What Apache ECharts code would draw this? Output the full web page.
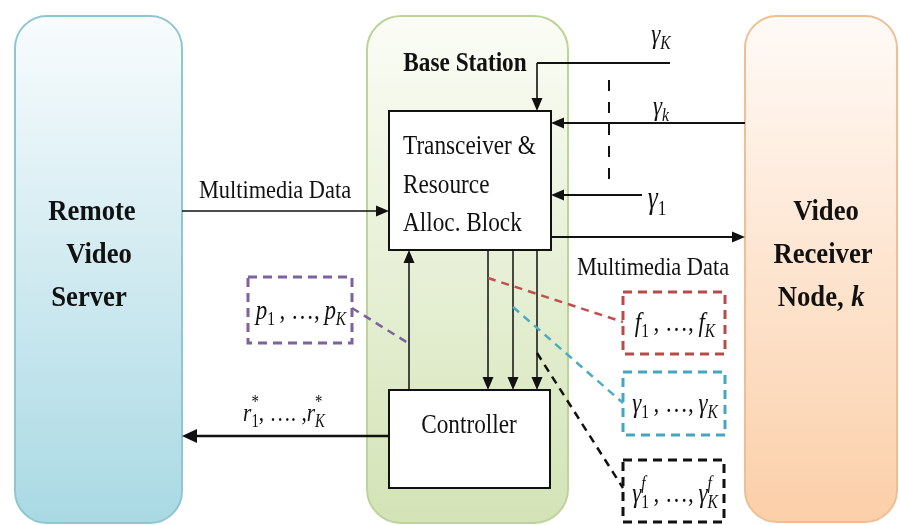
<!DOCTYPE html>
<html><head><meta charset="utf-8">
<script src="https://cdn.jsdelivr.net/npm/echarts@6/dist/echarts.min.js"></script>
<style>html,body{margin:0;padding:0;background:#fff}#c{width:900px;height:525px}</style>
</head><body><div id="c"></div>
<script>
// ---- content (labels) ----
const entityNames = [['Remote','Video','Server'], ['Base Station'], ['Video','Receiver','Node, ']];
const entityItalicTail = 'k';
const blockNames = [['Transceiver &','Resource','Alloc. Block'], ['Controller']];
const flowLabels = ['Multimedia Data', 'Multimedia Data'];
// math labels: [text, kind]  kind: i=italic, r=roman, s=sub roman, si=sub italic, pi=sup italic (stacked), p=sup roman (stacked)
const powerLabel   = [['p','i'],['1','s'],['\u2009, …,\u2009','r'],['p','i'],['K','si']];
const freqLabel    = [['f','i'],['1','s'],['\u2009, …,\u2009','r'],['f','i'],['K','si']];
const snrLabel     = [['γ','i'],['1','s'],['\u2009, …,\u2009','r'],['γ','i'],['K','si']];
const snrFLabel    = [['γ','i'],['f','pi'],['1','s'],['\u2009, …,\u2009','r'],['γ','i'],['f','pi'],['K','si']];
const rateLabel    = [['r','i'],['*','p'],['1','s'],[', …. ,','r'],['r','i'],['*','p'],['K','si']];
const feedbackK    = [['γ','i'],['K','si']];
const feedbackk    = [['γ','i'],['k','si']];
const feedback1    = [['γ','i'],['1','s']];

// ---- drawing helpers ----
const SERIF = '"Liberation Serif","Times New Roman",serif';
const els = [];
function rect(x,y,w,h,style,r,z){ els.push({type:'rect',z:z||1,shape:{x,y,width:w,height:h,r:r||0},style}); }
function line(x1,y1,x2,y2,o){ o=o||{}; els.push({type:'line',z:o.z||5,shape:{x1,y1,x2,y2},style:{stroke:o.color||'#111',lineWidth:o.w||1.6,lineDash:o.dash||null,lineCap:'butt'}}); }
function arrow(x1,y1,x2,y2,o){
  o=o||{}; const L=o.len||13, HW=o.hw||5.5;
  const dx=x2-x1, dy=y2-y1, d=Math.hypot(dx,dy), ux=dx/d, uy=dy/d;
  const bx=x2-ux*L, by=y2-uy*L;
  line(x1,y1,bx+ux*2,by+uy*2,o);
  els.push({type:'polygon',z:6,shape:{points:[[x2,y2],[bx-uy*HW,by+ux*HW],[bx+uy*HW,by-ux*HW]]},style:{fill:o.color||'#111'}});
}
function text(str,x,y,o){
  o=o||{};
  els.push({type:'text',z:10,x,y,scaleX:o.sx||1,style:{text:str,x:0,y:0,fontFamily:SERIF,fontSize:o.size||20,
    fontWeight:o.bold?'bold':'normal',fontStyle:o.italic?'italic':'normal',fill:o.color||'#111',
    align:o.align||'center',verticalAlign:'middle'}});
}
const mctx = document.createElement('canvas').getContext('2d');
function measure(t,size,italic){ mctx.font=(italic?'italic ':'')+size+'px '+SERIF; return mctx.measureText(t).width; }
function mathText(segs,cx,cy,size,sx){
  sx = sx||0.82;
  const items=[]; let x=0;
  segs.forEach(([t,k])=>{
    const small = k!=='i' && k!=='r';
    const fs = small? Math.round(size*0.68) : size;
    const it = (k==='i'||k==='si'||k==='pi');
    const w = measure(t,fs,it)*sx;
    let dy = 0;
    if(k==='s'||k==='si') dy = size*0.3;
    if(k==='p'||k==='pi') dy = -size*0.4;
    items.push({t,fs,it,x,dy});
    if(!(k==='p'||k==='pi')) x += w;
  });
  const x0 = cx - x/2;
  items.forEach(p=>{
    els.push({type:'text',z:10,x:x0+p.x,y:cy+p.dy,scaleX:sx,style:{text:p.t,x:0,y:0,fontFamily:SERIF,fontSize:p.fs,fontStyle:p.it?'italic':'normal',fill:'#111',align:'left',verticalAlign:'middle'}});
  });
}
const G = (a,b)=> new echarts.graphic.LinearGradient(0,0,0,1,[{offset:0,color:a},{offset:1,color:b}]);

// ---- entity containers ----
rect(15,16,167,507,{fill:G('#f8fcfd','#a9d9e4'),stroke:'#8fc6d2',lineWidth:2},32);
rect(367,16,201,507,{fill:G('#fbfdf6','#d3e3b6'),stroke:'#bcd49a',lineWidth:2},34);
rect(745,16,152,506,{fill:G('#fffaf7','#fbcfa8'),stroke:'#efbf93',lineWidth:2},32);

// entity titles
[92,99,89].forEach((cx,i)=>text(entityNames[0][i],cx,[213,256,299][i],{size:29,bold:true,sx:0.92}));
text(entityNames[1][0],465,64,{size:28,bold:true,sx:0.83});
text(entityNames[2][0],826,213,{size:29,bold:true,sx:0.92});
text(entityNames[2][1],823,256,{size:29,bold:true,sx:0.92});
text(entityNames[2][2],814,299,{size:29,bold:true,sx:0.92});
text(entityItalicTail,858,299,{size:29,bold:true,italic:true,sx:0.92});

// blocks
rect(389,111,162,139,{fill:'#fff',stroke:'#111',lineWidth:2},0,3);
rect(389,390,161,98,{fill:'#fff',stroke:'#111',lineWidth:2},0,3);
blockNames[0].forEach((s,i)=>text(s,403,[147,186,224][i],{size:28,sx:0.83,align:'left'}));
text(blockNames[1][0],469,426,{size:28,sx:0.83});

// flows left
arrow(182,211,389,211,{w:1.6});
text(flowLabels[0],275,191,{size:26,sx:0.86});
arrow(389,436,182,436,{w:2.6,len:15,hw:7});
mathText(rateLabel,284,414,26);

// internal arrows
arrow(409,390,409,250,{w:1.5});
[488,513,537].forEach(x=>arrow(x,250,x,390,{w:1.5}));

// feedback from receivers
line(537,63,670,63,{w:2});
arrow(537,63,537,111,{w:1.6});
mathText(feedbackK,661,36,28);
arrow(745,123,551,123,{w:1.8});
mathText(feedbackk,661,108,28);
arrow(642,195,551,195,{w:1.8});
mathText(feedback1,657,200,31);
line(609,80,609,186,{w:2,dash:[11,11]});

// flow right
arrow(551,237,745,237,{w:1.8});
text(flowLabels[1],653,268,{size:26,sx:0.86});

// dashed parameter boxes and links
const dashBox=(x,y,w,h,c)=>rect(x,y,w,h,{fill:'rgba(255,255,255,0.6)',stroke:c,lineWidth:3,lineDash:[9,6]},0,4);
dashBox(248,277,104,66,'#7d62a0');
line(352,308,408,343,{color:'#7d62a0',w:2.5,dash:[8,6]});
mathText(powerLabel,301,312,28);

dashBox(623,292,102,62,'#b94a47');
line(488,278,623,322,{color:'#c0504d',w:2.5,dash:[8,6]});
mathText(freqLabel,675,324,28);

dashBox(623,372,102,63,'#43a8bf');
line(513,307,623,403,{color:'#4bacc6',w:2.5,dash:[8,6]});
mathText(snrLabel,675,405,28);

dashBox(623,460,101,62,'#111');
line(537,353,623,488,{color:'#111',w:2.5,dash:[8,6]});
mathText(snrFLabel,675,495,28);

const chart = echarts.init(document.getElementById('c'),null,{renderer:'canvas'});
chart.setOption({backgroundColor:'#fff',animation:false,graphic:{elements:els}});
</script></body></html>
